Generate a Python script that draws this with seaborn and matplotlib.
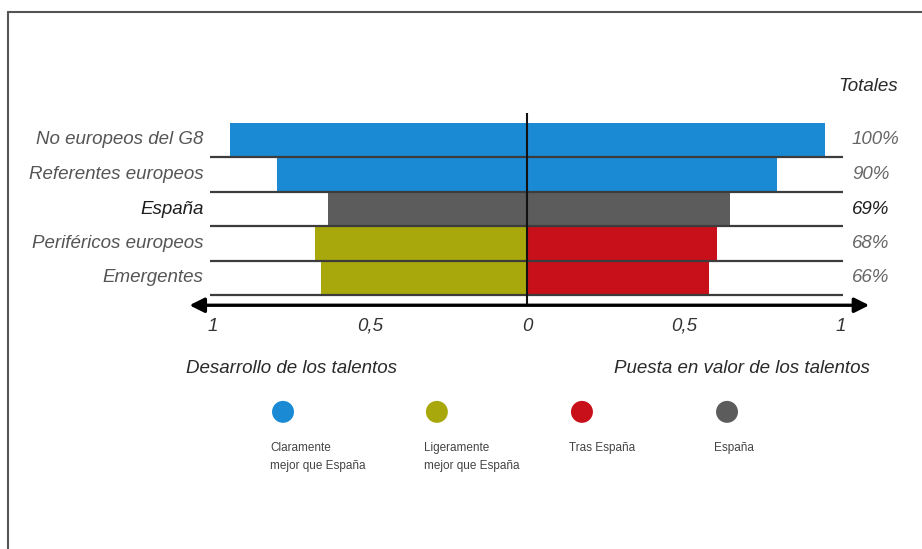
import matplotlib
matplotlib.use("Agg")
import matplotlib.pyplot as plt
import seaborn as sns
import pandas as pd
import numpy as np
from matplotlib.lines import Line2D

# --- Data ---
groups = ["No europeos del G8", "Referentes europeos", "España",
          "Periféricos europeos", "Emergentes"]
desarrollo = [0.945, 0.795, 0.635, 0.675, 0.655]   # left side
puesta_valor = [0.948, 0.796, 0.645, 0.605, 0.581]  # right side
totales = ["100%", "90%", "69%", "68%", "66%"]
left_class = ["Claramente", "Claramente", "España", "Ligeramente", "Ligeramente"]
right_class = ["Claramente", "Claramente", "España", "Tras", "Tras"]

tick_values = [-1, -0.5, 0, 0.5, 1]
tick_labels = ["1", "0,5", "0", "0,5", "1"]

legend_keys = ["Claramente", "Ligeramente", "Tras", "España"]
legend_labels = ["Claramente\nmejor que España", "Ligeramente\nmejor que España",
                 "Tras España", "España"]

palette = {"Claramente": "#1a8ad4", "Ligeramente": "#a8a80c",
           "Tras": "#c8101a", "España": "#5c5c5c"}

sns.set_theme(style="white")
plt.rcParams["font.family"] = ["Liberation Sans", "DejaVu Sans"]

fig = plt.figure(figsize=(9.22, 5.49), dpi=100)
ax = fig.add_axes([0, 0, 1, 1])

df_left = pd.DataFrame({"grupo": groups, "valor": [-v for v in desarrollo], "clase": left_class})
df_right = pd.DataFrame({"grupo": groups, "valor": puesta_valor, "clase": right_class})

for d in (df_left, df_right):
    sns.barplot(data=d, y="grupo", x="valor", hue="clase", palette=palette,
                orient="h", width=1.0, dodge=False, errorbar=None, saturation=1,
                linewidth=0, legend=False, ax=ax)

# map data units onto the page: 0 at ~527px, 1 unit ~314px, rows 34.5px
ax.set_xlim(-527 / 314, (922 - 527) / 314)
row_px, row0_px = 34.5, 140
ax.set_ylim((549 - row0_px) / row_px, -row0_px / row_px)
ax.axis("off")

n = len(groups)
rows = np.arange(n)

# row separators and central axis
ax.hlines(rows + 0.5, -1.01, 1.005, color="#3c3c3c", lw=1.6, zorder=3)
ax.vlines(0, -0.78, 4.8, color="#111111", lw=1.5, zorder=4)

# double arrow
ax.annotate("", xy=(-1.075, 4.79), xytext=(1.09, 4.79),
            arrowprops=dict(arrowstyle="<|-|>", color="black", lw=2.4,
                            mutation_scale=22, shrinkA=0, shrinkB=0), zorder=5)

label_style = dict(fontsize=13.5, style="italic")
for i, g in enumerate(groups):
    dark = g == "España"
    ax.text(-1.03, i, g, ha="right", va="center",
            color="#1e1e1e" if dark else "#555555", **label_style)
    ax.text(1.035, i, totales[i], ha="left", va="center",
            color="#1e1e1e" if dark else "#666666", **label_style)

ax.text(1.18, -1.54, "Totales", ha="right", va="center", color="#2a2a2a", **label_style)

for v, t in zip(tick_values, tick_labels):
    ax.text(v, 5.4, t, ha="center", va="center", color="#333333", **label_style)

ax.text(-1.085, 6.62, "Desarrollo de los talentos", ha="left", va="center",
        color="#2a2a2a", **label_style)
ax.text(1.093, 6.62, "Puesta en valor de los talentos", ha="right", va="center",
        color="#2a2a2a", **label_style)

# legend
leg_x = [-0.777, -0.287, 0.175, 0.637]
ax.scatter(leg_x, [7.88] * 4, s=250, c=[palette[k] for k in legend_keys],
           linewidths=0, zorder=5)
for x, lab in zip(leg_x, legend_labels):
    ax.text(x - 0.04, 8.75, lab, ha="left", va="top", fontsize=8.5,
            color="#444444", linespacing=1.65)

# page frame
fig.add_artist(Line2D([8 / 922, 8 / 922], [0, 1 - 12 / 549], color="#555555",
                      lw=1.5, transform=fig.transFigure))
fig.add_artist(Line2D([8 / 922, 1], [1 - 12 / 549, 1 - 12 / 549], color="#555555",
                      lw=1.5, transform=fig.transFigure))

fig.savefig("out.png", dpi=100)
